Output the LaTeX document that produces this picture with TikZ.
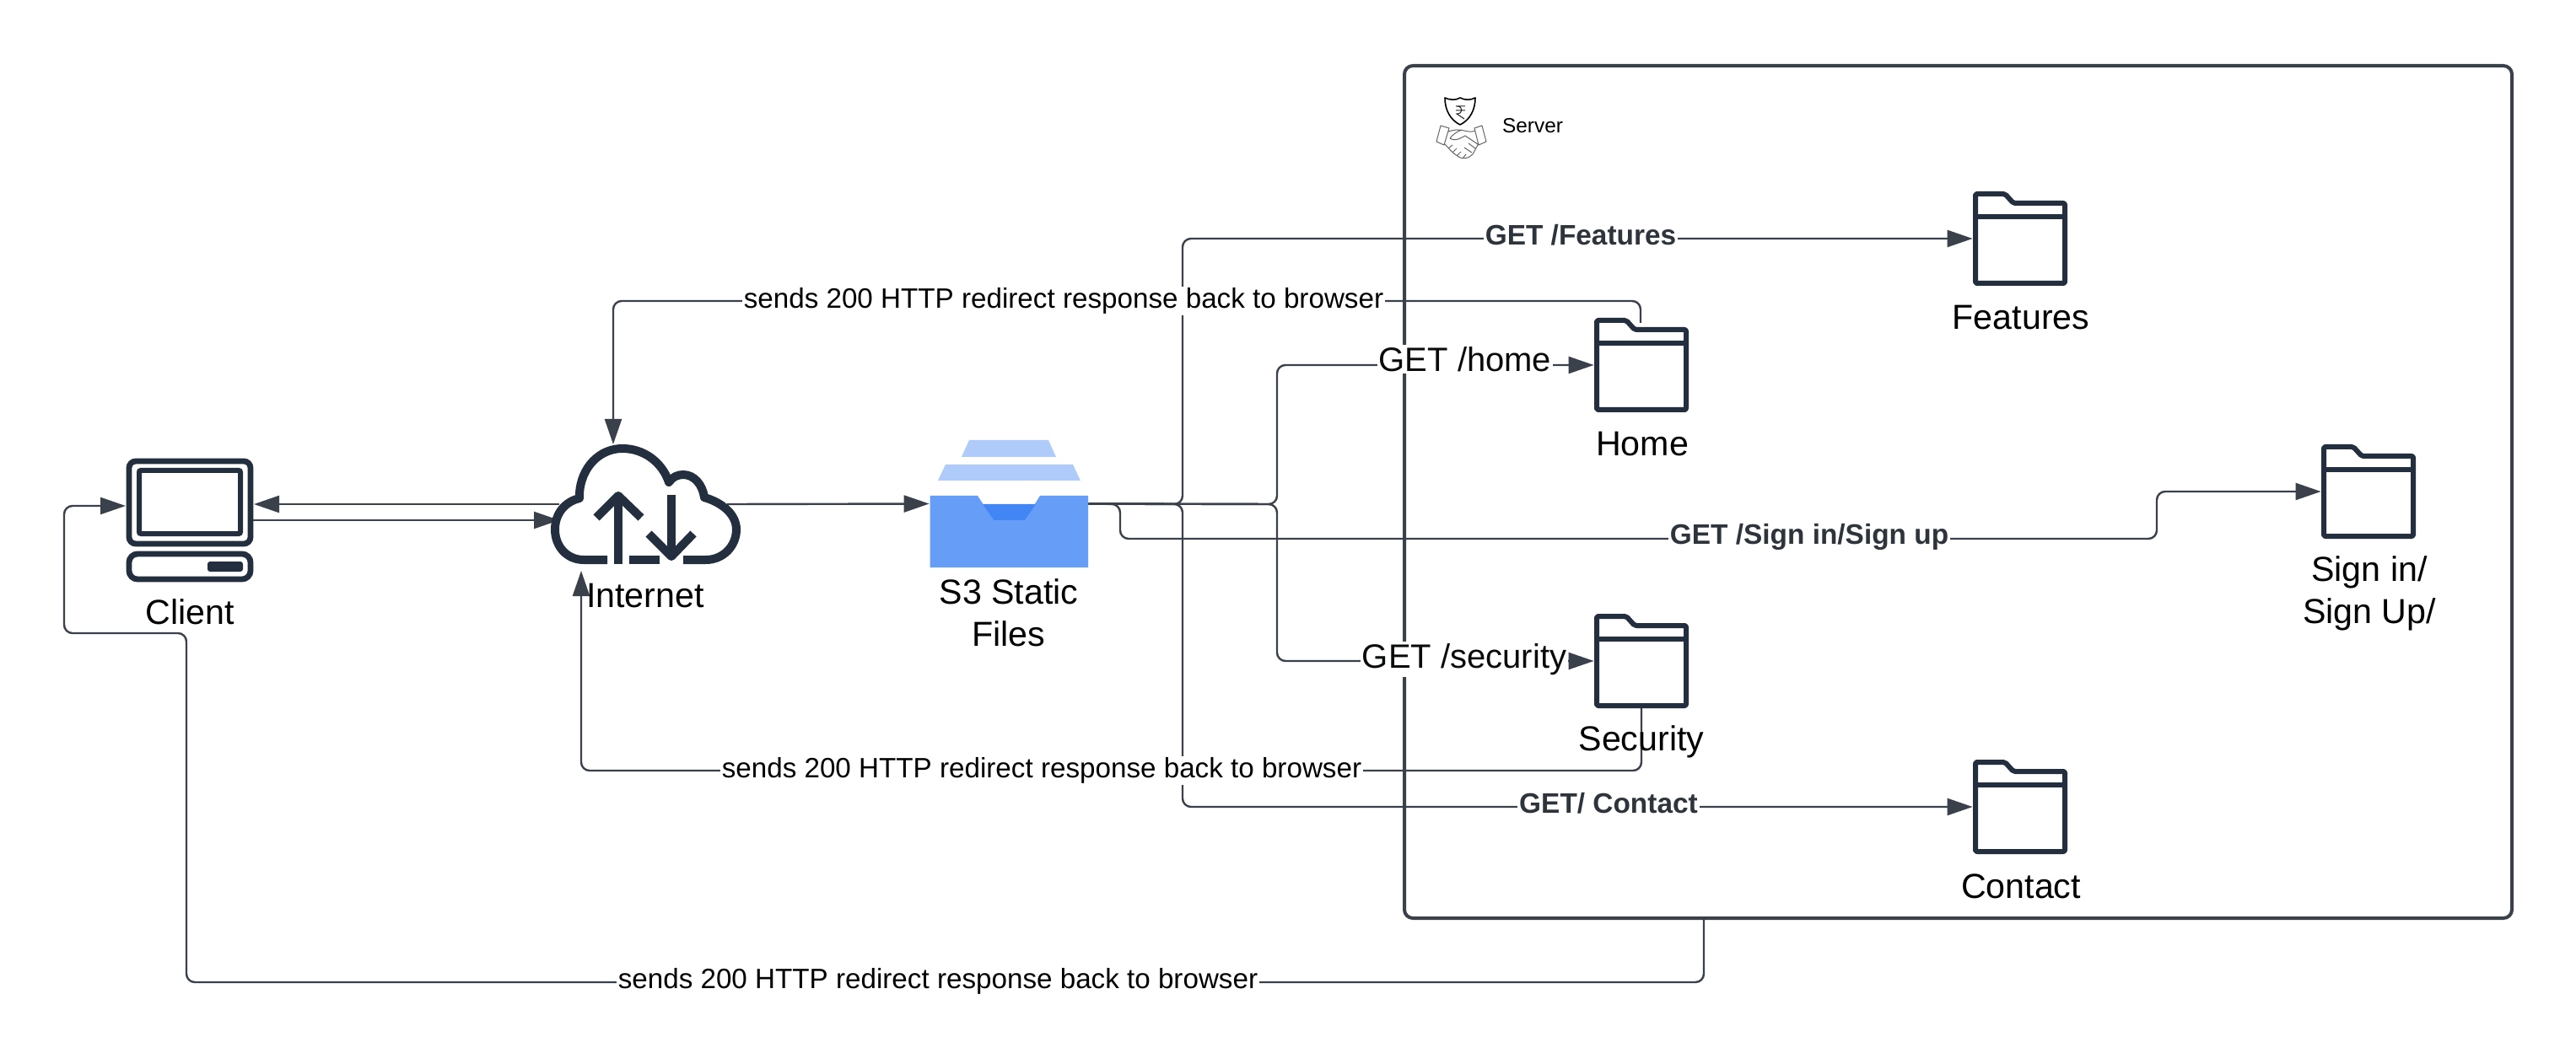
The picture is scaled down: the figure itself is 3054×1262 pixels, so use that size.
\documentclass[tikz,border=0pt]{standalone}
\usepackage{fontspec}
\setmainfont{Liberation Sans}
\usetikzlibrary{arrows.meta,calc}
\definecolor{iconink}{HTML}{232F3E}
\definecolor{wire}{HTML}{3A414A}
\definecolor{driveA}{HTML}{669DF6}
\definecolor{driveB}{HTML}{AECBFA}
\definecolor{driveC}{HTML}{4285F4}
\tikzset{
  x=0.5pt,y=-0.5pt,
  wireline/.style={draw=wire,line width=1.2pt,rounded corners=5pt},
  arrowed/.style={wireline,-{Triangle[length=15pt,width=10pt,fill=wire,color=wire]}},
  shownlabel/.style={font=\fontsize{20.6}{25}\selectfont,align=center,inner sep=0pt,text=black},
  midlabel/.style={font=\fontsize{20}{24}\selectfont,fill=white,inner sep=1pt,text=black!85!wire},
  boldlabel/.style={font=\fontsize{16.7}{20}\selectfont\bfseries,fill=white,inner sep=1pt,text=wire!80!black},
  replylabel/.style={font=\fontsize{16.6}{20}\selectfont,fill=white,inner sep=1pt,text=black},
  foldernode/.style={minimum width=56pt,minimum height=56pt,inner sep=0pt},
  foldericon/.pic={
    \draw[iconink,line width=3pt,rounded corners=1pt,line join=round]
      (-53,-53) -- (-18,-53) -- (-8,-42) -- (53,-42) -- (53,53) -- (-53,53) -- cycle;
    \draw[iconink,line width=3pt] (-53,-26) -- (53,-26);
  }
}
\begin{document}
\begin{tikzpicture}
\useasboundingbox (0,0) rectangle (3054,1262);
\fill[white] (0,0) rectangle (3054,1262);

% server frame
\node[draw=wire,line width=2pt,rounded corners=5pt,minimum width=656.5pt,minimum height=505.5pt,inner sep=0pt] (server) at (2321.5,583.5) {};

% shield and handshake
\draw[black,line width=0.8pt,line join=round] (1713,116) .. controls (1720,119) and (1726,119) .. (1731,116) .. controls (1737,119) and (1743,119) .. (1749,116) .. controls (1749,130) and (1743,142) .. (1731,148) .. controls (1719,142) and (1713,130) .. (1713,116) -- cycle;
\draw[black!85,line width=0.5pt] (1726,126) -- (1737,126) (1726,131) -- (1737,131) (1727,126) .. controls (1735,126) and (1735,135) .. (1727,135) -- (1736,141);
\draw[black!60,line width=0.5pt,line join=round]
  (1708,149) -- (1718,152) -- (1712,172) -- (1703,168) -- cycle
  (1748,152) -- (1757,149) -- (1762,168) -- (1753,172) -- cycle
  (1717,156) .. controls (1724,154) and (1730,153) .. (1736,155) .. controls (1740,156) and (1745,157) .. (1749,155)
  (1712,170) .. controls (1718,176) and (1722,182) .. (1728,185) .. controls (1734,190) and (1741,188) .. (1746,183) -- (1753,170)
  (1733,154) .. controls (1727,156) and (1722,160) .. (1719,164) .. controls (1724,168) and (1730,165) .. (1737,161) -- (1752,171)
  (1736,175) -- (1745,181) (1741,170) -- (1749,176)
  (1717,176) -- (1722,172) (1722,181) -- (1727,176) (1727,185) -- (1732,180) (1734,188) -- (1738,183);
\node[font=\fontsize{12.2}{14}\selectfont,inner sep=0pt] (serverlabel) at (1817,149) {Server};

% anchor nodes for the icons
\node[minimum width=75pt,minimum height=73pt,inner sep=0pt] (client) at (225,617) {};
\node[minimum width=112pt,minimum height=71pt,inner sep=0pt] (internet) at (765,598) {};
\node[minimum width=94pt,minimum height=75.5pt,inner sep=0pt] (stat) at (1196,597.5) {};
\node[foldernode] (home) at (1946,433) {};
\node[foldernode] (features) at (2395,283) {};
\node[foldernode] (signin) at (2808,583) {};
\node[foldernode] (security) at (1946,784) {};
\node[foldernode] (contact) at (2395,957) {};

\coordinate (clientin) at (149,600);
\coordinate (clientback) at (301,598);
\coordinate (clientout) at (299,617);
\coordinate (cloudback) at (663,598);
\coordinate (cloudin) at (663,617);
\coordinate (cloudout) at (862,598);
\coordinate (cloudtop) at (727,527);
\coordinate (cloudbottom) at (689,677);
\coordinate (homeout) at (1945,383);
\coordinate (securityout) at (1946,840);
\coordinate (serverout) at (2020,1089);

% connectors
\draw[arrowed] (cloudback) -- (clientback);
\draw[arrowed] (clientout) -- (cloudin);
\draw[arrowed] (cloudout) -- (stat.west);
\draw[arrowed] (stat.east) -- (1402,598) -- (1402,283) -- (features.west);
\draw[arrowed] (stat.east) -- (1402,598) -- (1402,957) -- (contact.west);
\draw[arrowed] (stat.east) -- (1514,598) -- (1514,433) -- (home.west);
\draw[arrowed] (stat.east) -- (1514,598) -- (1514,784) -- (security.west);
\draw[arrowed] (stat.east) -- (1328,598) -- (1328,639) -- (2557,639) -- (2557,583) -- (signin.west);
\draw[arrowed] (homeout) -- (1945,357) -- (727,357) -- (cloudtop);
\draw[arrowed] (securityout) -- (1946,914) -- (689,914) -- (cloudbottom);
\draw[arrowed] (serverout) -- (2020,1165) -- (221,1165) -- (221,751) -- (76,751) -- (76,600) -- (clientin);

% computer
\draw[iconink,line width=3.4pt,rounded corners=4pt] (153,547) rectangle (297,645);
\draw[iconink,line width=3pt,rounded corners=1pt] (165,558) rectangle (285,633);
\draw[iconink,line width=3.4pt,rounded corners=5pt] (153,657) rectangle (297,687);
\fill[iconink,rounded corners=1.5pt] (246,666) rectangle (288,678);

% cloud
\draw[iconink,line width=5pt,line join=round]
  (720,664) -- (692,664) .. controls (672,664) and (658,648) .. (658,628)
  .. controls (658,609) and (670,595) .. (687,591)
  -- (687,585) .. controls (689,555) and (710,532) .. (738,532)
  .. controls (763,532) and (785,548) .. (793,572)
  .. controls (797,566) and (803,563) .. (810,563)
  .. controls (823,563) and (833,575) .. (835,590)
  .. controls (856,596) and (873,610) .. (873,628)
  .. controls (873,648) and (857,664) .. (837,664) -- (810,664);
\draw[iconink,line width=5pt] (746,664) -- (782,664);
\draw[iconink,line width=5pt] (733,669) -- (733,590);
\draw[iconink,line width=5pt,line join=round] (707,614) -- (733,588) -- (760,614);
\draw[iconink,line width=5pt] (796,587) -- (796,660);
\draw[iconink,line width=5pt,line join=round] (769,633) -- (796,660) -- (822,633);

% static files tray
\fill[driveB] (1140,542) -- (1149,522) -- (1243,522) -- (1252,542) -- cycle;
\fill[driveB] (1112,570) -- (1121,551) -- (1272,551) -- (1281,570) -- cycle;
\fill[driveA] (1102.5,588) -- (1159,588) -- (1178,617) -- (1215,617) -- (1233,588) -- (1290,588) -- (1290,673) -- (1102.5,673) -- cycle;
\fill[driveC] (1165,598) -- (1228,598) -- (1215,617) -- (1178,617) -- cycle;

% folders
\pic at (home) {foldericon};
\pic at (features) {foldericon};
\pic at (signin) {foldericon};
\pic at (security) {foldericon};
\pic at (contact) {foldericon};

% labels
\node[shownlabel] (clientlabel) at (225,726) {Client};
\node[shownlabel] (internetlabel) at (765,707) {Internet};
\node[shownlabel] (statlabel) at (1196,727) {S3 Static\\Files};
\node[shownlabel] (homelabel) at (1947,527) {Home};
\node[shownlabel] (featureslabel) at (2396,377) {Features};
\node[shownlabel] (signinlabel) at (2809,704) {Sign in/\\Sign Up/};
\node[shownlabel] (securitylabel) at (1946,880) {Security};
\node[shownlabel] (contactlabel) at (2396,1051) {Contact};

\node[boldlabel] (getfeatures) at (1874,279) {GET /Features};
\node[midlabel] (gethome) at (1737,426) {GET /home};
\node[midlabel] (getsecurity) at (1736,782) {GET /security};
\node[boldlabel] (getsign) at (2145,637) {GET /Sign in/Sign up};
\node[boldlabel] (getcontact) at (1907,953) {GET/ Contact};
\node[replylabel] (replyhome) at (1261,357) {sends 200 HTTP redirect response back to browser};
\node[replylabel] (replysecurity) at (1235,914) {sends 200 HTTP redirect response back to browser};
\node[replylabel] (replyserver) at (1112,1164) {sends 200 HTTP redirect response back to browser};
\end{tikzpicture}
\end{document}
